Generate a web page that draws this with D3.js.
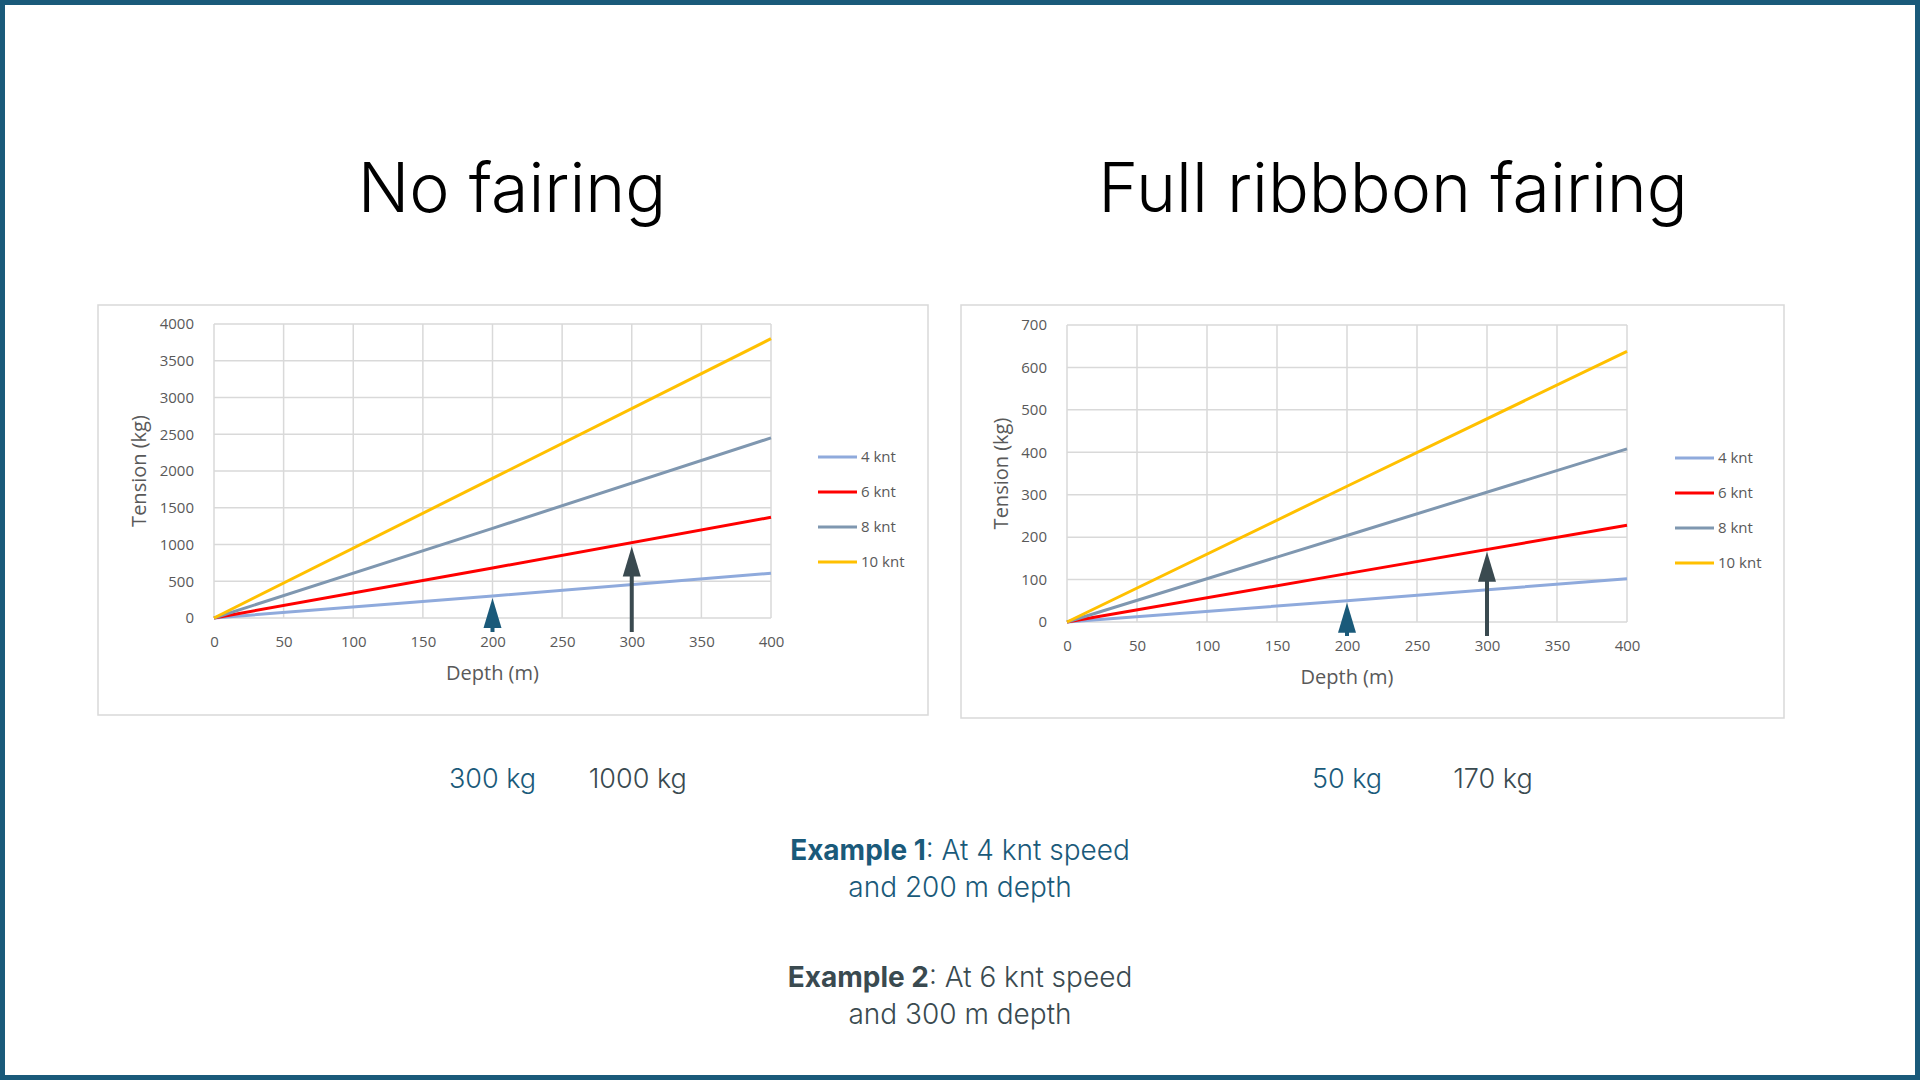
<!doctype html>
<html>
<head>
<meta charset="utf-8"/>
<title>Tension vs depth</title>
<script src="https://d3js.org/d3.v7.min.js"></script>
<style>
body{margin:0;background:#fff;font-family:"Open Sans",sans-serif;}
</style>
</head>
<body>
<script>
// depths (m)
var depths = [0, 200, 400];
var speeds = ["4 knt", "6 knt", "8 knt", "10 knt"];
var colors = ["#8faadc", "#ff0000", "#7f97b0", "#ffc000"];
// tension (kg) per speed, no fairing
var noFairing = [[0, 300, 610], [0, 680, 1370], [0, 1220, 2450], [0, 1900, 3800]];
// tension (kg) per speed, full ribbon fairing
var fullFairing = [[0, 50, 102], [0, 114, 228], [0, 204, 408], [0, 320, 638]];
var xTicks = [0, 50, 100, 150, 200, 250, 300, 350, 400];
var yTicksA = [0, 500, 1000, 1500, 2000, 2500, 3000, 3500, 4000];
var yTicksB = [0, 100, 200, 300, 400, 500, 600, 700];
// arrows: [depth, tension, colour]
var arrowsA = [[200, 300, "#1a5a7a"], [300, 1000, "#3a4a50"]];
var arrowsB = [[200, 50, "#1a5a7a"], [300, 170, "#3a4a50"]];

var svg = d3.select("body").append("svg").attr("width", 1920).attr("height", 1080);
svg.append("rect").attr("x", 2.5).attr("y", 2.5).attr("width", 1915).attr("height", 1075)
  .attr("fill", "none").attr("stroke", "#1a5a7a").attr("stroke-width", 5);

function drawChart(cfg) {
  var g = svg.append("g");
  g.append("rect").attr("x", cfg.box[0]).attr("y", cfg.box[1]).attr("width", cfg.box[2]).attr("height", cfg.box[3])
    .attr("fill", "#fff").attr("stroke", "#d9d9d9").attr("stroke-width", 1.5);
  g.append("text").attr("x", cfg.titleX).attr("y", 212).attr("text-anchor", "middle")
    .attr("font-family", "Inter, 'Noto Sans', sans-serif").attr("font-weight", 300)
    .attr("font-size", 68).attr("fill", "#000").text(cfg.title);

  var x = d3.scaleLinear().domain([0, 400]).range([cfg.plot[0], cfg.plot[1]]);
  var y = d3.scaleLinear().domain([0, cfg.yMax]).range([cfg.plot[3], cfg.plot[2]]);

  g.selectAll(".gx").data(xTicks).enter().append("line")
    .attr("x1", d => x(d)).attr("x2", d => x(d)).attr("y1", y(0)).attr("y2", y(cfg.yMax))
    .attr("stroke", "#d9d9d9").attr("stroke-width", 1.5);
  g.selectAll(".gy").data(cfg.yTicks).enter().append("line")
    .attr("x1", x(0)).attr("x2", x(400)).attr("y1", d => y(d)).attr("y2", d => y(d))
    .attr("stroke", "#d9d9d9").attr("stroke-width", 1.5);

  var xa = g.append("g").attr("transform", "translate(0," + (y(0) + 10) + ")")
    .call(d3.axisBottom(x).tickValues(xTicks).tickFormat(d3.format("d")).tickSize(0).tickPadding(8));
  var ya = g.append("g").attr("transform", "translate(" + (x(0) - 12) + ",0)")
    .call(d3.axisLeft(y).tickValues(cfg.yTicks).tickFormat(d3.format("d")).tickSize(0).tickPadding(8));
  [xa, ya].forEach(function (a) {
    a.select(".domain").remove();
    a.selectAll("text").attr("font-family", "'Open Sans', sans-serif").attr("font-size", 15).attr("fill", "#595959");
  });

  g.append("text").attr("x", (x(0) + x(400)) / 2).attr("y", y(0) + 62).attr("text-anchor", "middle")
    .attr("font-size", 20).attr("fill", "#595959").text("Depth (m)");
  g.append("text").attr("transform", "translate(" + cfg.yLabelX + "," + (y(0) + y(cfg.yMax)) / 2 + ") rotate(-90)")
    .attr("text-anchor", "middle").attr("font-size", 20).attr("fill", "#595959").text("Tension (kg)");

  var line = d3.line().x((d, i) => x(depths[i])).y(d => y(d));
  g.selectAll(".series").data(cfg.data).enter().append("path")
    .attr("d", d => line(d)).attr("fill", "none").attr("stroke", (d, i) => colors[i]).attr("stroke-width", 3);

  var leg = g.selectAll(".leg").data(speeds).enter().append("g")
    .attr("transform", (d, i) => "translate(" + cfg.legX + "," + (cfg.legY + i * 35) + ")");
  leg.append("line").attr("x1", 0).attr("x2", 39).attr("stroke", (d, i) => colors[i]).attr("stroke-width", 3);
  leg.append("text").attr("x", 43).attr("dy", "0.35em").attr("font-size", 15).attr("fill", "#595959").text(d => d);

  cfg.arrows.forEach(function (a) {
    var ax = x(a[0]), tip = y(a[1]) + 2, bottom = y(0) + 14;
    g.append("line").attr("x1", ax).attr("x2", ax).attr("y1", bottom).attr("y2", tip + 20)
      .attr("stroke", a[2]).attr("stroke-width", 4);
    g.append("path").attr("d", "M" + (ax - 9) + "," + (tip + 30) + "L" + ax + "," + tip + "L" + (ax + 9) + "," + (tip + 30) + "Z")
      .attr("fill", a[2]);
    g.append("text").attr("x", ax + (a[2] === "#1a5a7a" ? 0 : 6)).attr("y", 788).attr("text-anchor", "middle")
      .attr("font-family", "Inter, 'Noto Sans', sans-serif").attr("font-weight", 300)
      .attr("font-size", 27).attr("fill", a[2]).text(a[1] + " kg");
  });
}

drawChart({box: [98, 305, 830, 410], plot: [214, 771, 324, 618], yMax: 4000, yTicks: yTicksA,
  data: noFairing, title: "No fairing", titleX: 512, yLabelX: 146, legX: 818, legY: 457, arrows: arrowsA});
drawChart({box: [961, 305, 823, 413], plot: [1067, 1627, 325, 622], yMax: 700, yTicks: yTicksB,
  data: fullFairing, title: "Full ribbbon fairing", titleX: 1393, yLabelX: 1008, legX: 1675, legY: 458, arrows: arrowsB});

function example(yy, col, bold, rest, line2) {
  var t = svg.append("text").attr("x", 960).attr("y", yy).attr("text-anchor", "middle")
    .attr("font-family", "Inter, 'Noto Sans', sans-serif").attr("font-weight", 300)
    .attr("font-size", 28).attr("fill", col);
  t.append("tspan").attr("font-weight", "bold").text(bold);
  t.append("tspan").text(rest);
  svg.append("text").attr("x", 960).attr("y", yy + 37).attr("text-anchor", "middle")
    .attr("font-family", "Inter, 'Noto Sans', sans-serif").attr("font-weight", 300)
    .attr("font-size", 28).attr("fill", col).text(line2);
}
example(860, "#1a5a7a", "Example 1", ": At 4 knt speed", "and 200 m depth");
example(987, "#3a4a50", "Example 2", ": At 6 knt speed", "and 300 m depth");
</script>
</body>
</html>
